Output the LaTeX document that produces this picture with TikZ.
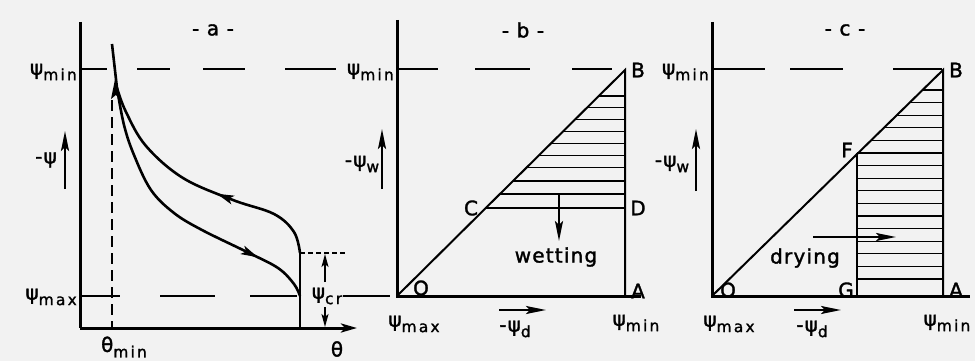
\documentclass[tikz,border=0pt]{standalone}
\usepackage{fontspec}
\setmainfont[LetterSpace=6,FakeBold=1.6]{DejaVu Sans}
\newfontfamily\subfont[LetterSpace=14,FakeBold=1.4]{DejaVu Sans}
\usetikzlibrary{arrows.meta,decorations.markings}
\newcommand{\lsub}[2]{#1\raisebox{-0.5ex}{\subfont\fontsize{15.5}{16}\selectfont #2}}
\begin{document}
\begin{tikzpicture}[x=1pt,y=-1pt,
  lbl/.style={font=\fontsize{20}{22}\selectfont, inner sep=1pt},
  axis/.style={line width=3pt},
  thin/.style={line width=1.5pt},
  hatch/.style={line width=1.2pt},
  curve/.style={line width=2.6pt},
  arr/.style={line width=2.2pt,-{Stealth[length=20pt,width=8pt,inset=4pt]}},
  midarr/.style={postaction={decorate},decoration={markings,
     mark=at position #1 with {\arrow{Stealth[length=17pt,width=9pt,inset=4pt]}}}}
]
\fill[black!5] (0,0) rectangle (975,361);
\useasboundingbox (0,0) rectangle (975,361);

% ================= panel a =================
\coordinate (aO) at (80,328);
\coordinate (aT) at (80,22);
\coordinate (aX) at (357,328);
\draw[axis] (aT) -- (aO);
\draw[axis,-{Stealth[length=16pt,width=9pt,inset=4pt]}] (aO) -- (aX);
\node[lbl] (atitle) at (213,30) {- a -};
% dashed theta_min
\draw[thin,dash pattern=on 11pt off 6pt] (112,100) -- (112,328);
% psi_min dashes
\foreach \a/\b in {80/107,137/170,203/245,285/336}{\draw[thin] (\a,69) -- (\b,69);}
% psi_max dashes
\foreach \a/\b in {80/120,160/215,250/297,343/390}{\draw[thin] (\a,296) -- (\b,296);}
% curves
\coordinate (cTop) at (112,44);
\coordinate (cJoin) at (117,88);
\coordinate (cKnee) at (300,253);
\coordinate (cBot) at (300,296);
\coordinate (cAx) at (300,328);
\draw[curve] (cTop) -- (cJoin);
\draw[curve,midarr=0.42] plot[smooth,tension=0.6] coordinates
  {(300,253) (294,232) (274,214) (233,200) (183,178) (146,146) (126,112) (117,88)};
\draw[curve,midarr=0.8] plot[smooth,tension=0.6] coordinates
  {(117,88) (124,125) (134,155) (151,190) (174,213) (202,230) (247,252) (278,268) (294,284) (300,296)};
\draw[curve] (cKnee) -- (cAx);
\fill (115.5,77) -- (111,99) -- (115.8,95) -- (120.5,99) -- cycle;
% psi_cr
\draw[thin,dash pattern=on 5pt off 3pt] (cKnee) -- (346,253);
\draw[line width=1.8pt,-{Stealth[length=13pt,width=7pt,inset=3pt]}] (325,282) -- (325,254);
\draw[line width=1.8pt,-{Stealth[length=13pt,width=7pt,inset=3pt]}] (325,307) -- (325,327);
\node[lbl] (psicr) at (327,296) {\lsub{ψ}{cr}};
% labels
\node[lbl,anchor=east] (aPmin) at (78,72) {\lsub{ψ}{min}};
\node[lbl,anchor=east] (aPmax) at (78,297) {\lsub{ψ}{max}};
\node[lbl] (aPsi) at (46,160) {-ψ};
\draw[arr] (65,189) -- (65,131);
\node[lbl] (thmin) at (124,347) {\lsub{θ}{min}};
\node[lbl] (th) at (337,349) {θ};

% ================= panel b =================
\coordinate (bO) at (397,296);
\coordinate (bT) at (397,20);
\coordinate (bE) at (641,296);
\coordinate (bB) at (625,70);
\coordinate (bA) at (625,296);
\coordinate (bC) at (486,208);
\coordinate (bD) at (625,208);
\draw[axis] (bT) -- (bO) -- (bE);
\draw[line width=2pt] (bO) -- (bB) -- (bA);
\foreach \a/\b in {397/438,475/530,572/612}{\draw[thin] (\a,69) -- (\b,69);}
\foreach \y in {96,107.5,119.5,131.5,143.5,155.5,167.5,181,194}{
  \pgfmathsetmacro\xl{397+(296-\y)/226*228}
  \draw[hatch] (\xl,\y) -- (625,\y);}
\draw[line width=2.4pt] (bC) -- (bD);
\draw[arr] (559,193) -- (559,241);
\node[lbl] (btitle) at (523,30) {- b -};
\node[lbl] (bBl) at (638,70) {B};
\node[lbl] (bDl) at (638,208) {D};
\node[lbl] (bAl) at (638,291) {A};
\node[lbl] (bCl) at (471,208) {C};
\node[lbl] (bOl) at (421,288) {O};
\node[lbl] (wet) at (556,257) {wetting};
\node[lbl,anchor=east] (bPmin) at (395,72) {\lsub{ψ}{min}};
\node[lbl] (bPw) at (362,164) {-\lsub{ψ}{w}};
\draw[arr] (382,189) -- (382,129);
\node[lbl] (bPmax) at (414,324) {\lsub{ψ}{max}};
\node[lbl] (bPd) at (515,329) {-\lsub{ψ}{d}};
\draw[arr] (499,310) -- (546,310);
\node[lbl] (bPmin2) at (636,323) {\lsub{ψ}{min}};

% ================= panel c =================
\coordinate (cO) at (712,296);
\coordinate (cT) at (712,22);
\coordinate (cE) at (970,296);
\coordinate (cB) at (943,70);
\coordinate (cA) at (943,296);
\coordinate (cF) at (857,153);
\coordinate (cG) at (857,296);
\draw[axis] (cT) -- (cO) -- (cE);
\draw[line width=2pt] (cO) -- (cB) -- (cA);
\draw[line width=2.4pt] (cF) -- (cG);
\foreach \a/\b in {713/765,790/843,893/942}{\draw[thin] (\a,69) -- (\b,69);}
\foreach \y in {90,102.6,115.2,127.8,140.4}{
  \pgfmathsetmacro\xl{712+(296-\y)/226*231}
  \draw[hatch] (\xl,\y) -- (943,\y);}
\draw[line width=1.6pt] (cF) -- (943,153);
\foreach \y in {165.6,178.2,190.8,203.4,216,228.6,241.2,253.8,266.4,279}{
  \draw[hatch] (857,\y) -- (943,\y);}
\draw[arr] (813,237) -- (896,237);
\node[lbl] (ctitle) at (845,30) {- c -};
\node[lbl] (cBl) at (956,70) {B};
\node[lbl] (cFl) at (847,150) {F};
\node[lbl] (cGl) at (846,290) {G};
\node[lbl] (cAl) at (956,290) {A};
\node[lbl] (cOl) at (728,290) {O};
\node[lbl] (dry) at (805,258) {drying};
\node[lbl,anchor=east] (cPmin) at (710,72) {\lsub{ψ}{min}};
\node[lbl] (cPw) at (672,164) {-\lsub{ψ}{w}};
\draw[arr] (696,191) -- (696,129);
\node[lbl] (cPmax) at (729,324) {\lsub{ψ}{max}};
\node[lbl] (cPd) at (812,329) {-\lsub{ψ}{d}};
\draw[arr] (794,310) -- (841,310);
\node[lbl] (cPmin2) at (947,323) {\lsub{ψ}{min}};
\end{tikzpicture}
\end{document}
